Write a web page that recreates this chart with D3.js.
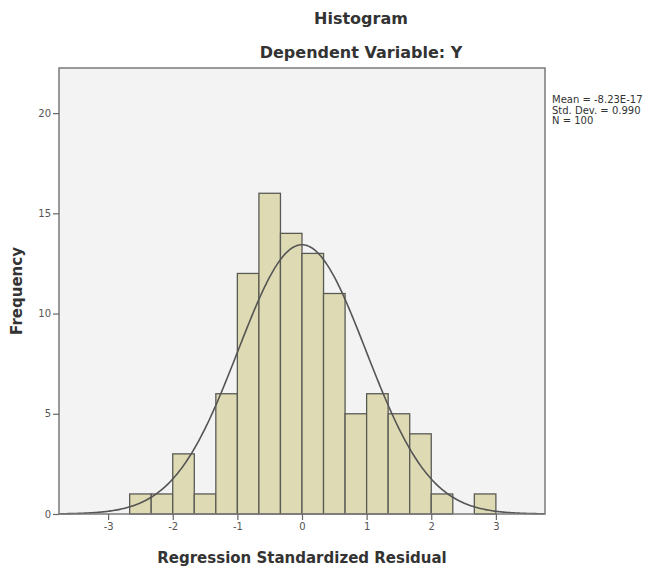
<!DOCTYPE html>
<html>
<head>
  <meta charset="utf-8">
  <title>Histogram</title>
  <script src="https://cdn.jsdelivr.net/npm/d3@7.0.0/dist/d3.min.js"></script>
  <style>
    body { margin: 0; background: #fff; }
    text { font-family: "DejaVu Sans", sans-serif; }
  </style>
</head>
<body>
  <div id="chart"></div>

  <script>
    // bin edges (width 1/3) and counts
    var binStarts = [-8/3, -7/3, -2, -5/3, -4/3, -1, -2/3, -1/3, 0, 1/3, 2/3, 1, 4/3, 5/3, 2, 7/3, 8/3];
    var counts    = [1, 1, 3, 1, 6, 12, 16, 14, 13, 11, 5, 6, 5, 4, 1, 0, 1];
    var binWidth = 1/3;

    var xTicks = [-3, -2, -1, 0, 1, 2, 3];
    var yTicks = [0, 5, 10, 15, 20];

    // stats shown in the legend
    var mean = -8.23e-17, stdDev = 0.990, n = 100;
    var statLines = ["Mean = -8.23E-17", "Std. Dev. = 0.990", "N = 100"];

    var W = 657, H = 574;
    var plot = { left: 59, top: 68, right: 545, bottom: 514 };

    var svg = d3.select("#chart").append("svg")
      .attr("width", W)
      .attr("height", H);

    var x = d3.scaleLinear().domain([-3.76, 3.76]).range([plot.left, plot.right]);
    var y = d3.scaleLinear().domain([0, 22.25]).range([plot.bottom, plot.top]);

    // plot background
    svg.append("rect")
      .attr("x", plot.left).attr("y", plot.top)
      .attr("width", plot.right - plot.left)
      .attr("height", plot.bottom - plot.top)
      .attr("fill", "#f3f3f3");

    // bars
    svg.selectAll(".bar")
      .data(counts.map(function(c, i) { return { x0: binStarts[i], c: c }; }).filter(function(d) { return d.c > 0; }))
      .enter().append("rect")
      .attr("class", "bar")
      .attr("x", function(d) { return x(d.x0); })
      .attr("y", function(d) { return y(d.c); })
      .attr("width", function(d) { return x(d.x0 + binWidth) - x(d.x0); })
      .attr("height", function(d) { return y(0) - y(d.c); })
      .attr("fill", "#dedbb4")
      .attr("stroke", "#5a5a55")
      .attr("stroke-width", 1.3);

    // normal curve scaled to counts
    var curvePts = d3.range(-3.76, 3.761, 0.02).map(function(v) {
      var z = (v - mean) / stdDev;
      return [v, n * binWidth * Math.exp(-0.5 * z * z) / (stdDev * Math.sqrt(2 * Math.PI))];
    });
    svg.append("path")
      .datum(curvePts)
      .attr("fill", "none")
      .attr("stroke", "#555")
      .attr("stroke-width", 1.6)
      .attr("d", d3.line().x(function(d) { return x(d[0]); }).y(function(d) { return y(d[1]); }));

    // frame
    svg.append("rect")
      .attr("x", plot.left).attr("y", plot.top)
      .attr("width", plot.right - plot.left)
      .attr("height", plot.bottom - plot.top)
      .attr("fill", "none")
      .attr("stroke", "#7a7a7a")
      .attr("stroke-width", 1.5);

    // axes
    var xAxis = svg.append("g")
      .attr("transform", "translate(0," + plot.bottom + ")")
      .call(d3.axisBottom(x).tickValues(xTicks).tickFormat(String).tickSize(6).tickPadding(3));
    var yAxis = svg.append("g")
      .attr("transform", "translate(" + plot.left + ",0)")
      .call(d3.axisLeft(y).tickValues(yTicks).tickFormat(String).tickSize(6).tickPadding(2));

    [xAxis, yAxis].forEach(function(g) {
      g.select(".domain").remove();
      g.selectAll(".tick line").attr("stroke", "#666").attr("stroke-width", 1.2);
      g.selectAll(".tick text")
        .attr("fill", "#555")
        .style("font-size", "10px")
        .style("font-family", "'DejaVu Sans', sans-serif");
    });

    // titles
    svg.append("text")
      .attr("x", 361).attr("y", 24)
      .attr("text-anchor", "middle")
      .attr("fill", "#333")
      .style("font-size", "16px").style("font-weight", "bold")
      .text("Histogram");
    svg.append("text")
      .attr("x", 361).attr("y", 58)
      .attr("text-anchor", "middle")
      .attr("fill", "#333")
      .style("font-size", "16px").style("font-weight", "bold")
      .text("Dependent Variable: Y");

    svg.append("text")
      .attr("x", (plot.left + plot.right) / 2).attr("y", 563)
      .attr("text-anchor", "middle")
      .attr("fill", "#333")
      .style("font-size", "15px").style("font-weight", "bold")
      .text("Regression Standardized Residual");

    svg.append("text")
      .attr("transform", "translate(22," + (plot.top + plot.bottom) / 2 + ") rotate(-90)")
      .attr("text-anchor", "middle")
      .attr("fill", "#333")
      .style("font-size", "15px").style("font-weight", "bold")
      .text("Frequency");

    // legend stats
    svg.selectAll(".stat")
      .data(statLines)
      .enter().append("text")
      .attr("class", "stat")
      .attr("x", 552)
      .attr("y", function(d, i) { return 103 + i * 10.5; })
      .attr("fill", "#333")
      .style("font-size", "10px")
      .text(function(d) { return d; });
  </script>
</body>
</html>
